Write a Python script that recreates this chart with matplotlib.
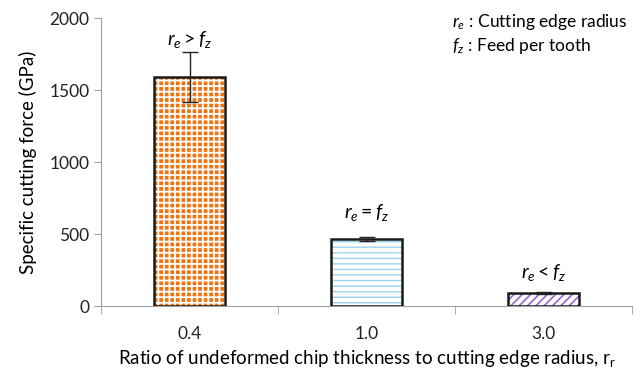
import numpy as np
import matplotlib
matplotlib.use('Agg')
import matplotlib.pyplot as plt

plt.rcParams['font.family'] = ['Lato', 'DejaVu Sans']
plt.rcParams['mathtext.fontset'] = 'custom'
plt.rcParams['mathtext.it'] = 'Lato:italic'
plt.rcParams['mathtext.rm'] = 'Lato'

# data
categories = ['0.4', '1.0', '3.0']
force = [1590, 465, 90]
err = [175, 15, 8]
labels = [r'$r_e > f_z$', r'$r_e = f_z$', r'$r_e < f_z$']
label_y = [1850, 650, 230]

faces = ['#EE7412', 'white', 'white']
hatches = ['+++', '---', '////']
hatch_cols = ['white', '#9CD3EC', '#9966CC']
hatch_lw = [1.3, 1.0, 1.2]

fig = plt.figure(figsize=(6.36, 3.71), dpi=100)
ax = fig.add_axes([0.159, 0.175, 0.835, 0.776])

x = np.arange(len(categories))
for i in range(len(categories)):
    plt.rcParams['hatch.linewidth'] = hatch_lw[i]
    ax.bar(x[i], force[i], width=0.4, color=faces[i], hatch=hatches[i],
           edgecolor=hatch_cols[i], linewidth=0, zorder=2)
ax.bar(x, force, width=0.4, fill=False, edgecolor='#1a1a1a', linewidth=1.8, zorder=3)
ax.errorbar(x, force, yerr=err, fmt='none', ecolor='#222222', elinewidth=1,
            capsize=6, capthick=1, zorder=4)

for i in range(len(categories)):
    ax.text(x[i], label_y[i], labels[i], ha='center', va='center', fontsize=14)

ax.text(0.66, 0.985, r'$r_e$ : Cutting edge radius', transform=ax.transAxes,
        fontsize=12.5, va='center')
ax.text(0.66, 0.905, r'$f_z$ : Feed per tooth', transform=ax.transAxes,
        fontsize=12.5, va='center')

ax.set_xlim(-0.5, 2.5)
ax.set_ylim(0, 2000)
ax.set_yticks([0, 500, 1000, 1500, 2000])
ax.set_xticks(x)
ax.set_xticklabels(categories)
ax.set_xticks([-0.5, 0.5, 1.5, 2.5], minor=True)
ax.tick_params(axis='x', which='major', length=0, pad=14, labelsize=12.5, colors='#222222')
ax.tick_params(axis='x', which='minor', length=6, color='#a0a0a0')
ax.tick_params(axis='y', length=5, color='#a0a0a0', labelsize=12.5, labelcolor='#222222')

for s in ['top', 'right']:
    ax.spines[s].set_visible(False)
for s in ['left', 'bottom']:
    ax.spines[s].set_color('#a0a0a0')

ax.set_ylabel('Specific cutting force (GPa)', fontsize=13.5, labelpad=9)
ax.set_xlabel('Ratio of undeformed chip thickness to cutting edge radius, r$_\\mathrm{r}$',
              fontsize=13.5, labelpad=5)

fig.savefig('out.png', dpi=100)
